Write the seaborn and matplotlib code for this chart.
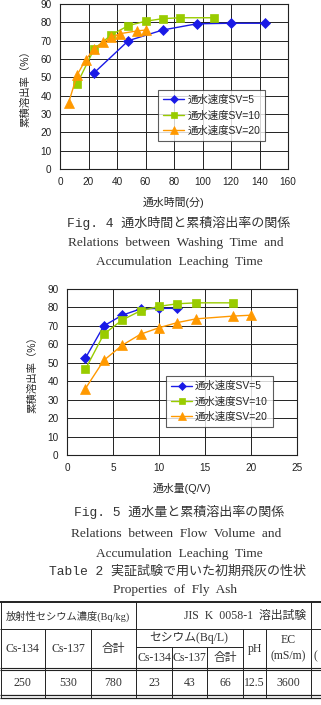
import numpy as np
import pandas as pd
import seaborn as sns
from matplotlib import pyplot as plt

# %%
# data
series_names = ['通水速度SV=5', '通水速度SV=10', '通水速度SV=20']

time_sv5 = [24, 48, 72, 96, 120, 144]
qv_sv5 = [2, 4, 6, 8, 10, 12]
rate_sv5 = [52.5, 70.0, 75.8, 79.2, 79.5, 79.5]

time_sv10 = [12, 24, 36, 48, 60, 72, 84, 108]
qv_sv10 = [2, 4, 6, 8, 10, 12, 14, 18]
rate_sv10 = [46.5, 65.5, 73.2, 78.2, 80.6, 82.0, 82.5, 82.5]

time_sv20 = [6, 12, 18, 24, 30, 36, 42, 54, 60]
qv_sv20 = [2, 4, 6, 8, 10, 12, 14, 18, 20]
rate_sv20 = [36.0, 51.3, 59.5, 65.5, 69.0, 71.8, 73.8, 75.3, 75.8]

# table 2
tbl_head1 = ['放射性セシウム濃度(Bq/kg)', 'JIS  K  0058-1  溶出試験']
tbl_head2 = ['Cs-134', 'Cs-137', '合計']
tbl_cs_head = 'セシウム(Bq/L)'
tbl_cs_sub = ['Cs-134', 'Cs-137', '合計']
tbl_values = ['250', '530', '780', '23', '43', '66', '12.5', '3600']

# %%
df = pd.DataFrame({
    'series': [series_names[0]] * len(time_sv5) + [series_names[1]] * len(time_sv10)
              + [series_names[2]] * len(time_sv20),
    'time': time_sv5 + time_sv10 + time_sv20,
    'qv': qv_sv5 + qv_sv10 + qv_sv20,
    'rate': rate_sv5 + rate_sv10 + rate_sv20,
})

sns.set_style('white')
plt.rcParams['font.family'] = ['Liberation Sans', 'Noto Sans CJK JP']

palette = {series_names[0]: '#1a1ae6', series_names[1]: '#99cc00', series_names[2]: '#ff9900'}
markers = {series_names[0]: 'D', series_names[1]: 's', series_names[2]: '^'}
msizes = {series_names[0]: 4.8, series_names[1]: 5.5, series_names[2]: 6.5}

W, H = 321, 705
fig = plt.figure(figsize=(W / 100, H / 100), dpi=100)


def px_box(x0, x1, y0, y1):
    return [x0 / W, 1 - y1 / H, (x1 - x0) / W, (y1 - y0) / H]


def make_chart(rect, xcol, xmax, xstep, xlabel, leg_anchor):
    ax = fig.add_axes(rect)
    sns.lineplot(data=df, x=xcol, y='rate', hue='series', style='series',
                 palette=palette, markers=markers, dashes=False, lw=1.0, ax=ax)
    for line in ax.lines:
        c = line.get_color()
        line.set_markeredgecolor(c)
        line.set_markerfacecolor(c)
        line.set_markeredgewidth(0.5)
    for line, name in zip(ax.lines, series_names):
        line.set_markersize(msizes[name])
    ax.set_xlim(0, xmax)
    ax.set_ylim(0, 90)
    ax.set_xticks(np.arange(0, xmax + 1, xstep))
    ax.set_yticks(np.arange(0, 91, 10))
    ax.grid(True, color='#222222', lw=0.7)
    ax.set_axisbelow(True)
    for s in ax.spines.values():
        s.set_color('#222222')
        s.set_linewidth(0.8)
    ax.tick_params(length=0, labelsize=7.2, pad=6, colors='#222222')
    ax.set_xlabel(xlabel, fontsize=7.8, labelpad=7)
    ax.set_ylabel('累積溶出率（%）', fontsize=7.5, labelpad=7)
    handles, labels = ax.get_legend_handles_labels()
    for h, name in zip(handles, labels):
        h.set_markeredgecolor(palette[name])
        h.set_markerfacecolor(palette[name])
        h.set_markersize(msizes[name] - 0.5)
    leg = ax.legend(handles, labels, loc='upper left', bbox_to_anchor=leg_anchor,
                    fontsize=7.5, frameon=True, fancybox=False, handlelength=2.0,
                    handletextpad=0.3, borderpad=0.5, labelspacing=0.5,
                    borderaxespad=0)
    leg.get_frame().set_edgecolor('#333333')
    leg.get_frame().set_linewidth(0.8)
    return ax


ax1 = make_chart(px_box(60, 288, 4, 169), 'time', 160, 20, '通水時間(分)', (0.43, 0.48))
ax2 = make_chart(px_box(67, 297, 289, 455), 'qv', 25, 5, '通水量(Q/V)', (0.43, 0.476))

# %%
# captions
cap_font = ['Liberation Mono', 'Noto Sans CJK JP']
serif = ['Liberation Serif', 'Noto Sans CJK JP']


def ftext(x, y, s, fam, size, **kw):
    fig.text(x / W, 1 - y / H, s, family=fam, fontsize=size, ha='center', va='center',
             color='#333333', **kw)


ftext(179, 223, 'Fig. 4 通水時間と累積溶出率の関係', cap_font, 9.4)
ftext(176, 243, 'Relations  between  Washing  Time  and', serif, 9.6)
ftext(179, 262, 'Accumulation  Leaching  Time', serif, 9.6)
ftext(179, 512, 'Fig. 5 通水量と累積溶出率の関係', cap_font, 9.4)
ftext(176, 534, 'Relations  between  Flow  Volume  and', serif, 9.6)
ftext(179, 554, 'Accumulation  Leaching  Time', serif, 9.6)
ftext(178, 571, 'Table 2 実証試験で用いた初期飛灰の性状', cap_font, 9.4)
ftext(175, 590, 'Properties  of  Fly  Ash', serif, 9.6)

# %%
# table drawn in pixel coordinates
tax = fig.add_axes([0, 0, 1, (H - 600) / H])
tax.set_xlim(0, W)
tax.set_ylim(H, 600)
tax.axis('off')

cols = [0, 45, 91, 136, 172, 207, 243, 266, 311, 360]
lc = '#222222'
tax.hlines([602.5], 0, W, color=lc, lw=1.4)
tax.hlines([629], 0, W, color=lc, lw=0.7)
tax.hlines([647], 136, 243, color=lc, lw=0.7)
tax.hlines([668, 670.5], 0, W, color=lc, lw=0.8)
tax.hlines([695.5, 698], 0, W, color=lc, lw=0.9)
tax.vlines([0.5, 136, 311], 602.5, 698, color=lc, lw=0.7)
tax.vlines([45, 91, 243, 266], 629, 698, color=lc, lw=0.7)
tax.vlines([172, 207], 647, 698, color=lc, lw=0.7)

tsize = 8.5
tkw = dict(family=serif, ha='center', va='center', color='#333333')
tax.text(68, 616, tbl_head1[0], fontsize=7.4, **tkw)
tax.text(245, 616, tbl_head1[1], fontsize=tsize, **tkw)
for i, s in enumerate(tbl_head2):
    tax.text((cols[i] + cols[i + 1]) / 2, 649, s, fontsize=tsize, **tkw)
tax.text(189, 638, tbl_cs_head, fontsize=tsize, **tkw)
for i, s in enumerate(tbl_cs_sub):
    tax.text((cols[i + 3] + cols[i + 4]) / 2, 658, s, fontsize=tsize, **tkw)
tax.text(254.5, 649, 'pH', fontsize=tsize, **tkw)
tax.text(288.5, 640, 'EC', fontsize=tsize, **tkw)
tax.text(288.5, 656, '(mS/m)', fontsize=tsize, **tkw)
tax.text(313, 656, '(', fontsize=tsize, family=serif, ha='left', va='center', color='#333333')
for i, s in enumerate(tbl_values):
    tax.text((cols[i] + cols[i + 1]) / 2, 683, s, fontsize=tsize, **tkw)

fig.savefig('out.png', dpi=100)
